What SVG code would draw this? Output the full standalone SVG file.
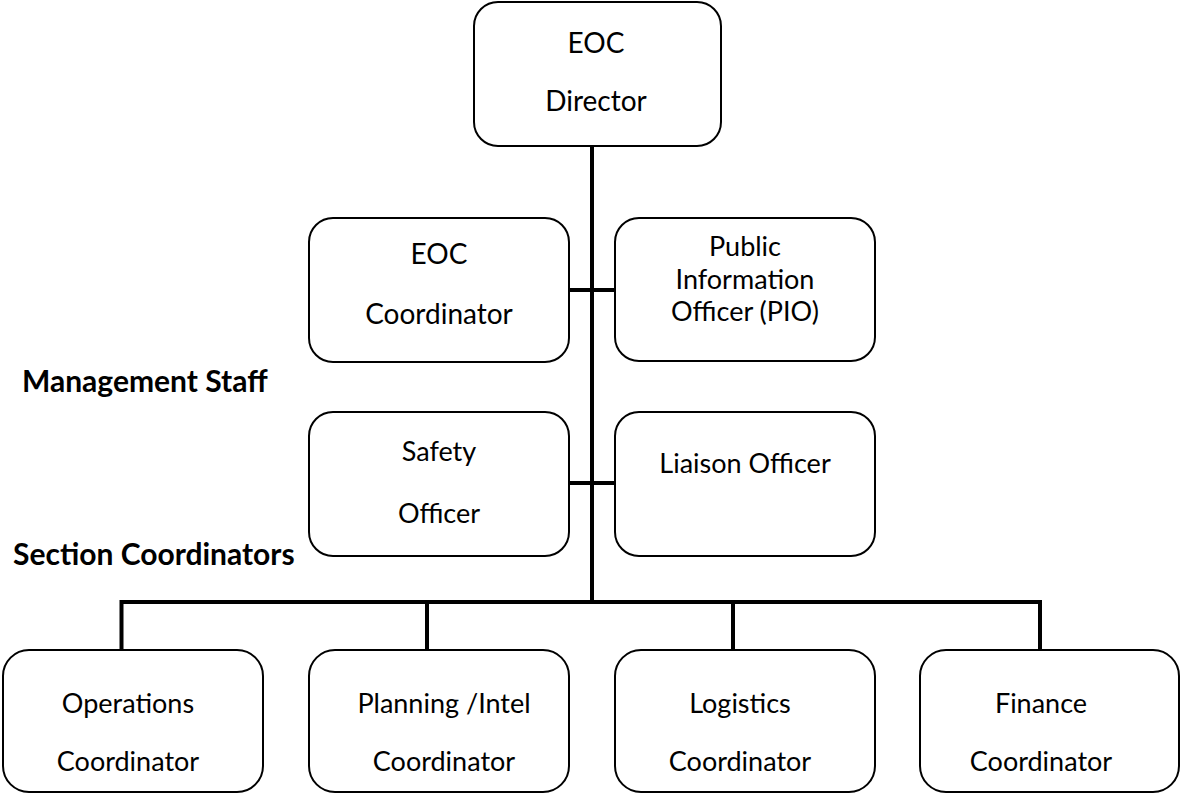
<svg xmlns="http://www.w3.org/2000/svg" width="1181" height="794" viewBox="0 0 1181 794">
<style>
.box{fill:#fff;stroke:#000;stroke-width:2}
.t{font-family:Lato,"Open Sans",sans-serif;font-size:28px;fill:#000;text-anchor:middle}
.s{font-size:27px}
.b{font-family:Lato,"Open Sans",sans-serif;font-size:30px;font-weight:bold;fill:#000}
.c{stroke:#000;stroke-width:4;fill:none}
</style>
<rect width="1181" height="794" fill="#fff"/>
<g id="connectors">
<line class="c" x1="592" y1="145" x2="592" y2="602"/>
<line class="c" x1="568" y1="290" x2="615" y2="290"/>
<line class="c" x1="568" y1="483" x2="615" y2="483"/>
<polyline class="c" points="121.5,650 121.5,602 1040,602 1040,650"/>
<line class="c" x1="427" y1="602" x2="427" y2="650"/>
<line class="c" x1="733" y1="602" x2="733" y2="650"/>
</g>
<g id="director">
<rect class="box" x="474" y="2" width="247" height="144" rx="24"/>
<text class="t" x="596" y="53">EOC</text>
<text class="t" x="596" y="111">Director</text>
</g>
<g id="eoc-coordinator">
<rect class="box" x="309" y="218" width="260" height="144" rx="24"/>
<text class="t" x="439" y="264">EOC</text>
<text class="t" x="439" y="324">Coordinator</text>
</g>
<g id="pio">
<rect class="box" x="615" y="218" width="260" height="143" rx="24"/>
<text class="t s" x="745" y="256">Public</text>
<text class="t s" x="745" y="289">Information</text>
<text class="t s" x="745" y="321">Officer (PIO)</text>
</g>
<g id="safety-officer">
<rect class="box" x="309" y="412" width="260" height="144" rx="24"/>
<text class="t s" x="439" y="461">Safety</text>
<text class="t s" x="439" y="523">Officer</text>
</g>
<g id="liaison-officer">
<rect class="box" x="615" y="412" width="260" height="144" rx="24"/>
<text class="t s" x="745" y="473">Liaison Officer</text>
</g>
<g id="label-management">
<text class="b" x="22" y="392">Management Staff</text>
</g>
<g id="label-section">
<text class="b" x="13" y="565">Section Coordinators</text>
</g>
<g id="operations">
<rect class="box" x="3" y="650" width="260" height="142" rx="26"/>
<text class="t s" x="128" y="713">Operations</text>
<text class="t s" x="128" y="771">Coordinator</text>
</g>
<g id="planning">
<rect class="box" x="309" y="650" width="260" height="142" rx="26"/>
<text class="t s" x="444" y="713">Planning /Intel</text>
<text class="t s" x="444" y="771">Coordinator</text>
</g>
<g id="logistics">
<rect class="box" x="615" y="650" width="260" height="142" rx="26"/>
<text class="t s" x="740" y="713">Logistics</text>
<text class="t s" x="740" y="771">Coordinator</text>
</g>
<g id="finance">
<rect class="box" x="920" y="650" width="259" height="142" rx="26"/>
<text class="t s" x="1041" y="713">Finance</text>
<text class="t s" x="1041" y="771">Coordinator</text>
</g>
</svg>
